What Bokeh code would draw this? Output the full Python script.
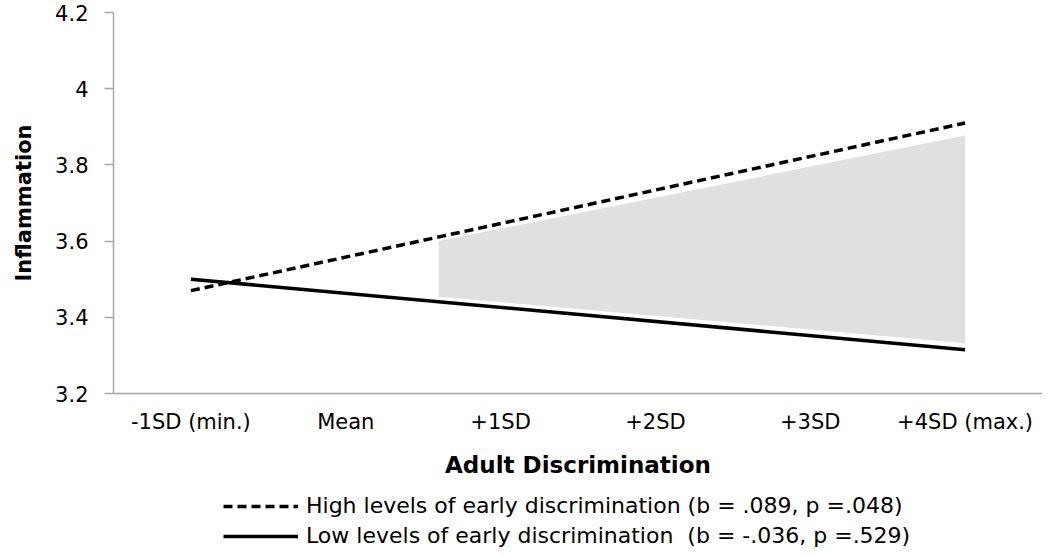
from bokeh.plotting import figure
from bokeh.models import Range1d, FixedTicker, Legend, LegendItem
from bokeh.layouts import column
from bokeh.embed import file_html
from bokeh.resources import INLINE

# ---- data ----
categories = ["-1SD (min.)", "Mean", "+1SD", "+2SD", "+3SD", "+4SD (max.)"]
cat_pos = [-1, 0, 1, 2, 3, 4]          # SD units of adult discrimination
line_x = [-1, 4]
high_early = [3.47, 3.91]               # High levels of early discrimination
low_early = [3.50, 3.315]               # Low levels of early discrimination
shade_x = [0.6, 4]
shade_top = [3.60, 3.877]
shade_bottom = [3.454, 3.332]
y_ticks = [3.2, 3.4, 3.6, 3.8, 4.0, 4.2]
y_tick_labels = ["3.2", "3.4", "3.6", "3.8", "4", "4.2"]
legend_labels = ["High levels of early discrimination (b = .089, p =.048)",
                 "Low levels of early discrimination  (b = -.036, p =.529)"]

FONT = "DejaVu Sans"
AXIS_COL = "#a6a6a6"
HIGH_STYLE = dict(line_color="black", line_width=3.5, line_dash="9 5")
LOW_STYLE = dict(line_color="black", line_width=3.5)

p = figure(width=1042, height=480, x_range=Range1d(-1.5, 4.5), y_range=Range1d(3.2, 4.2),
           output_backend="svg", toolbar_location=None,
           min_border_left=113, min_border_right=0, min_border_top=12, min_border_bottom=0)
p.outline_line_color = None
p.grid.visible = False

p.varea(x=shade_x, y1=shade_bottom, y2=shade_top, fill_color="#e0e0e0")
p.line(line_x, high_early, **HIGH_STYLE)
p.line(line_x, low_early, **LOW_STYLE)

# y axis
ya = p.yaxis[0]
ya.ticker = FixedTicker(ticks=y_ticks)
ya.major_label_overrides = {t: l for t, l in zip(y_ticks, y_tick_labels)}
ya.minor_tick_line_color = None
ya.major_tick_in = 0
ya.major_tick_out = 9
ya.major_tick_line_color = AXIS_COL
ya.axis_line_color = AXIS_COL
ya.axis_line_width = 1.5
ya.major_tick_line_width = 1.5
ya.major_label_text_font = FONT
ya.major_label_text_font_size = "21px"
ya.major_label_text_color = "black"
ya.major_label_standoff = 16
ya.axis_label = "Inflammation"
ya.axis_label_text_font = FONT
ya.axis_label_text_font_style = "bold"
ya.axis_label_text_font_size = "21px"
ya.axis_label_text_color = "black"
ya.axis_label_standoff = 16

# x axis
xa = p.xaxis[0]
xa.ticker = FixedTicker(ticks=cat_pos)
xa.major_label_overrides = {t: l for t, l in zip(cat_pos, categories)}
xa.minor_tick_line_color = None
xa.major_tick_in = 0
xa.major_tick_out = 0
xa.axis_line_color = AXIS_COL
xa.axis_line_width = 1.5
xa.major_label_text_font = FONT
xa.major_label_text_font_size = "21px"
xa.major_label_text_color = "black"
xa.major_label_standoff = 16
xa.axis_label = "Adult Discrimination"
xa.axis_label_text_font = FONT
xa.axis_label_text_font_style = "bold"
xa.axis_label_text_font_size = "23px"
xa.axis_label_text_color = "black"
xa.axis_label_standoff = 15

# legend strip (separate figure below the chart); its sample lines lie outside its view
p2 = figure(width=1042, height=69, x_axis_type=None, y_axis_type=None,
            x_range=Range1d(100, 101), y_range=Range1d(100, 101),
            output_backend="svg", toolbar_location=None, min_border=0)
p2.outline_line_color = None
p2.grid.visible = False
r_high = p2.line(line_x, high_early, **HIGH_STYLE)
r_low = p2.line(line_x, low_early, **LOW_STYLE)
legend = Legend(items=[LegendItem(label=legend_labels[0], renderers=[r_high]),
                       LegendItem(label=legend_labels[1], renderers=[r_low])],
                location=(110, 1), orientation="vertical",
                glyph_width=75, glyph_height=20, label_height=20, label_standoff=8, spacing=5,
                label_text_font=FONT, label_text_font_size="22px", label_text_color="black",
                border_line_color=None, background_fill_alpha=0, padding=0, margin=0)
p2.add_layout(legend, "center")

open("out.html", "w").write(file_html(column(p, p2, spacing=0), INLINE))
